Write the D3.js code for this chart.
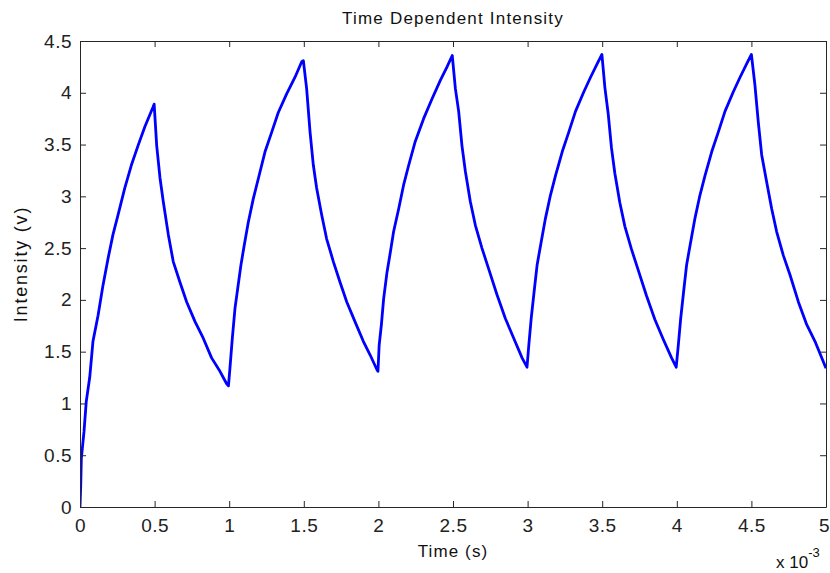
<!DOCTYPE html>
<html>
<head>
<meta charset="utf-8">
<script src="https://cdn.jsdelivr.net/npm/d3@7"></script>
<style>
  body { margin: 0; background: #fff; }
  svg { display: block; font-family: "Liberation Sans", Arial, sans-serif; }
</style>
</head>
<body>
<div id="chart"></div>
<script>
// time in units of 10^-3 s, intensity in v
var timeMs = [
  0, 0.005, 0.009, 0.027, 0.042, 0.065, 0.087, 0.121, 0.154, 0.188, 0.221, 0.255, 0.300, 0.344, 0.389, 0.434, 0.489, 0.497,
  0.514, 0.536, 0.558, 0.592, 0.625, 0.670, 0.715, 0.771, 0.826, 0.882, 0.938, 0.983, 0.995,
  1.005, 1.021, 1.039, 1.057, 1.079, 1.101, 1.128, 1.162, 1.195, 1.240, 1.285, 1.329, 1.385, 1.441, 1.486,
  1.497, 1.519, 1.542, 1.564, 1.586, 1.620, 1.653, 1.698, 1.743, 1.788, 1.843, 1.899, 1.944, 1.989, 1.997,
  2.005, 2.020, 2.035, 2.058, 2.080, 2.102, 2.136, 2.169, 2.203, 2.247, 2.303, 2.359, 2.415, 2.460, 2.495,
  2.516, 2.538, 2.560, 2.583, 2.616, 2.650, 2.694, 2.739, 2.795, 2.851, 2.907, 2.963, 2.996,
  3.008, 3.024, 3.046, 3.064, 3.091, 3.120, 3.153, 3.187, 3.232, 3.276, 3.321, 3.377, 3.422, 3.466, 3.498,
  3.518, 3.540, 3.562, 3.585, 3.618, 3.652, 3.696, 3.741, 3.797, 3.853, 3.909, 3.965, 3.996,
  4.010, 4.026, 4.048, 4.066, 4.093, 4.122, 4.155, 4.189, 4.234, 4.278, 4.323, 4.379, 4.424, 4.468, 4.500,
  4.524, 4.546, 4.569, 4.602, 4.636, 4.669, 4.714, 4.759, 4.815, 4.871, 4.926, 5.0
];
var intensity = [
  0, 0.21, 0.47, 0.73, 1.02, 1.25, 1.60, 1.85, 2.14, 2.40, 2.63, 2.82, 3.08, 3.30, 3.49, 3.67, 3.86, 3.89,
  3.49, 3.18, 2.95, 2.63, 2.37, 2.17, 1.98, 1.79, 1.63, 1.44, 1.31, 1.19, 1.17,
  1.34, 1.63, 1.92, 2.11, 2.34, 2.53, 2.75, 2.98, 3.17, 3.43, 3.62, 3.81, 3.99, 4.15, 4.30,
  4.31, 4.04, 3.62, 3.30, 3.08, 2.82, 2.59, 2.37, 2.17, 1.98, 1.79, 1.60, 1.47, 1.33, 1.31,
  1.56, 1.76, 2.01, 2.27, 2.46, 2.66, 2.88, 3.11, 3.30, 3.53, 3.75, 3.94, 4.12, 4.25, 4.36,
  4.04, 3.82, 3.49, 3.24, 2.95, 2.72, 2.50, 2.30, 2.05, 1.82, 1.63, 1.44, 1.35,
  1.56, 1.82, 2.11, 2.34, 2.56, 2.79, 3.01, 3.20, 3.43, 3.62, 3.82, 4.01, 4.15, 4.28, 4.37,
  4.05, 3.80, 3.47, 3.22, 2.94, 2.71, 2.49, 2.29, 2.04, 1.81, 1.62, 1.44, 1.35,
  1.56, 1.82, 2.11, 2.34, 2.56, 2.79, 3.01, 3.20, 3.43, 3.62, 3.82, 4.01, 4.15, 4.28, 4.37,
  4.07, 3.72, 3.40, 3.14, 2.88, 2.66, 2.43, 2.24, 1.98, 1.76, 1.60, 1.34
];
var xTicks = [0, 0.5, 1, 1.5, 2, 2.5, 3, 3.5, 4, 4.5, 5];
var yTicks = [0, 0.5, 1, 1.5, 2, 2.5, 3, 3.5, 4, 4.5];

var W = 830, H = 573;
var margin = {top: 41, right: 4, bottom: 66, left: 80},
    width = W - margin.left - margin.right,
    height = H - margin.top - margin.bottom;

var svg = d3.select("#chart").append("svg")
    .attr("width", W).attr("height", H);

var g = svg.append("g")
    .attr("transform", "translate(" + margin.left + "," + margin.top + ")");

var x = d3.scaleLinear().domain([0, 5]).range([0, width]);
var y = d3.scaleLinear().domain([0, 4.5]).range([height, 0]);

g.append("clipPath").attr("id", "clip")
  .append("rect").attr("width", width).attr("height", height);

var pts = timeMs.map(function(t, i) { return [t, intensity[i]]; });

var line = d3.line()
    .x(function(d) { return x(d[0]); })
    .y(function(d) { return y(d[1]); });

g.append("path")
    .datum(pts)
    .attr("clip-path", "url(#clip)")
    .attr("fill", "none")
    .attr("stroke", "#0000ff")
    .attr("stroke-width", 2.8)
    .attr("stroke-linejoin", "round")
    .attr("d", line);

// axes, MATLAB style: ticks inside on all four sides
var tickLen = 6;
function styleAxis(sel) {
  sel.select(".domain").attr("stroke", "#262626");
  sel.selectAll(".tick line").attr("stroke", "#262626");
  sel.selectAll("text").attr("fill", "#222").attr("font-size", 19)
     .attr("letter-spacing", 0.5)
     .attr("font-family", "Liberation Sans, Arial, sans-serif");
}

var xAxis = g.append("g")
    .attr("transform", "translate(0," + height + ")")
    .call(d3.axisBottom(x).tickValues(xTicks).tickSizeInner(-tickLen).tickSizeOuter(0)
      .tickPadding(12).tickFormat(d3.format("")))
    .call(styleAxis);
// keep the last label inside the window
xAxis.selectAll(".tick text").filter(function(d) { return d === 5; })
    .attr("text-anchor", "end").attr("letter-spacing", 0).attr("dx", 3);

g.append("g")
    .call(d3.axisTop(x).tickValues(xTicks).tickSizeInner(-tickLen).tickSizeOuter(0).tickFormat(""))
    .call(styleAxis);

g.append("g")
    .call(d3.axisLeft(y).tickValues(yTicks).tickSizeInner(-tickLen).tickSizeOuter(0)
      .tickPadding(8).tickFormat(d3.format("")))
    .call(styleAxis);

g.append("g")
    .attr("transform", "translate(" + width + ",0)")
    .call(d3.axisRight(y).tickValues(yTicks).tickSizeInner(-tickLen).tickSizeOuter(0).tickFormat(""))
    .call(styleAxis);

// title and labels
svg.append("text")
    .attr("x", margin.left + width / 2).attr("y", 24)
    .attr("text-anchor", "middle").attr("font-size", 17).attr("letter-spacing", 1.2)
    .attr("fill", "#111")
    .text("Time Dependent Intensity");

svg.append("text")
    .attr("x", margin.left + width / 2).attr("y", 557)
    .attr("text-anchor", "middle").attr("font-size", 17).attr("letter-spacing", 1.1)
    .attr("fill", "#111")
    .text("Time (s)");

svg.append("text")
    .attr("transform", "translate(27," + (margin.top + height / 2 - 10) + ") rotate(-90)")
    .attr("text-anchor", "middle").attr("font-size", 18).attr("letter-spacing", 1.8)
    .attr("fill", "#111")
    .text("Intensity (v)");

var exp = svg.append("text")
    .attr("x", 776).attr("y", 568).attr("font-size", 17).attr("fill", "#111");
exp.append("tspan").text("x 10");
exp.append("tspan").attr("dy", -11).attr("font-size", 13).text("-3");
</script>
</body>
</html>
